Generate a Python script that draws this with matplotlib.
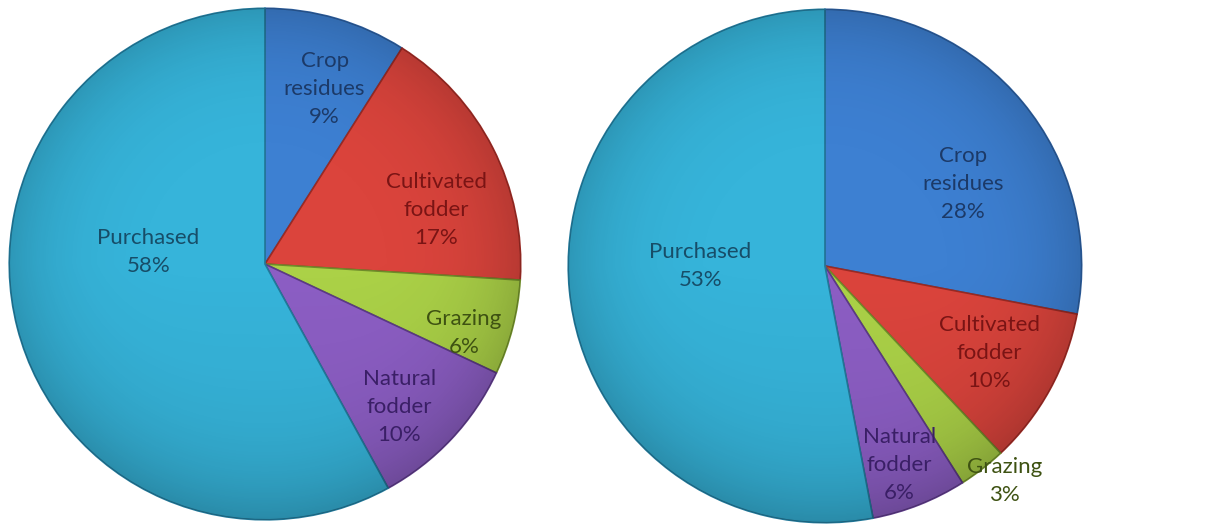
import numpy as np
import matplotlib.pyplot as plt
from matplotlib.patches import Circle

plt.rcParams["font.family"] = ["Lato", "DejaVu Sans"]

# 数据
categories = ["Crop\nresidues", "Cultivated\nfodder", "Grazing", "Natural\nfodder", "Purchased"]
left_values = [9, 17, 6, 10, 58]
right_values = [28, 10, 3, 6, 53]

colors = ["#3d80d2", "#db443c", "#abd147", "#8c5ec4", "#36b4da"]
edge_colors = ["#2a5a98", "#9a2a24", "#6f8c2a", "#5c3a86", "#22799a"]
text_colors = ["#1c3a68", "#7a1414", "#3e5212", "#3a1f66", "#174d68"]

# 标签位置 (单位半径)
left_pos = [(0.233, 0.685), (0.669, 0.210), (0.778, -0.268), (0.525, -0.560), (-0.455, 0.047)]
right_pos = [(0.539, 0.318), (0.640, -0.337), (0.700, -0.837), (0.290, -0.775), (-0.485, 0.0)]


def shade(ax):
    # 仿 Excel 的渐变效果
    n = 400
    xx, yy = np.meshgrid(np.linspace(-1, 1, n), np.linspace(-1, 1, n))
    rr = np.sqrt(xx ** 2 + yy ** 2)
    img = np.zeros((n, n, 4))
    dark = 0.16 * np.clip(rr, 0, 1) ** 5 + 0.07 * np.clip(-yy, 0, 1)
    img[..., 3] = np.clip(dark, 0, 1)
    im = ax.imshow(img, extent=(-1, 1, -1, 1), origin="lower", zorder=3)
    clip = Circle((0, 0), 1, transform=ax.transData)
    im.set_clip_path(clip)


def draw(ax, values, pos):
    wedges, _ = ax.pie(values, colors=colors, startangle=90, counterclock=False,
                       radius=1, wedgeprops=dict(linewidth=1.2))
    for w, ec in zip(wedges, edge_colors):
        w.set_edgecolor(ec)
    shade(ax)
    for lab, v, (x, y), tc in zip(categories, values, pos, text_colors):
        ax.text(x, y, "{}\n{}%".format(lab, v), ha="center", va="center",
                fontsize=16, color=tc, linespacing=1.5, zorder=5)
    ax.set_xlim(-1.005, 1.005)
    ax.set_ylim(-1.005, 1.005)
    ax.set_aspect("equal")
    ax.axis("off")


fig = plt.figure(figsize=(12.05, 5.24), dpi=100)
ax1 = fig.add_axes([0.0066, 0.0056, 0.4266, 0.981])
ax2 = fig.add_axes([0.4705, 0.0, 0.4282, 0.9847])
draw(ax1, left_values, left_pos)
draw(ax2, right_values, right_pos)

plt.savefig("out.png", dpi=100)
